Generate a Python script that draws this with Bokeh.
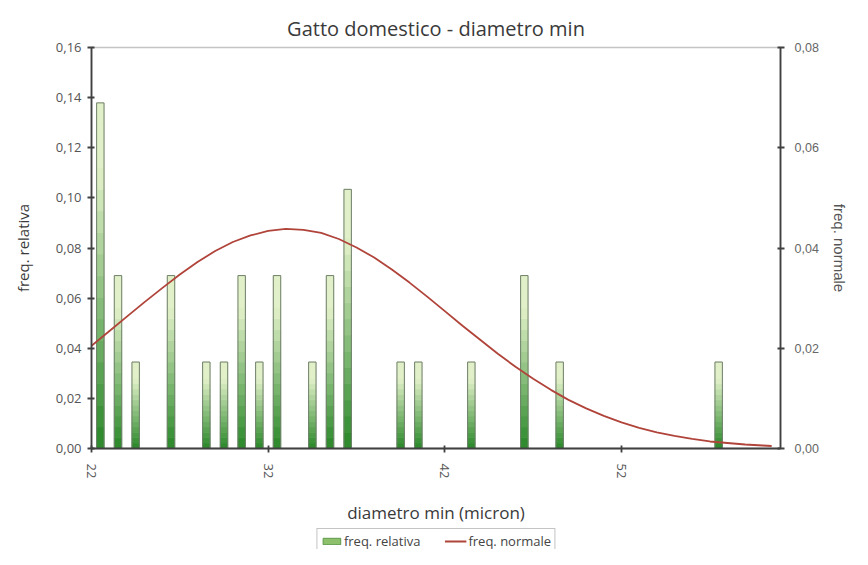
from bokeh.plotting import figure
from bokeh.models import (Range1d, LinearAxis, FixedTicker, CustomJSTickFormatter,
                          Legend, LegendItem, ColumnDataSource)
from bokeh.layouts import column
from bokeh.embed import file_html
from bokeh.resources import INLINE

# ---- data ----
diam = [22.5, 23.5, 24.5, 26.5, 28.5, 29.5, 30.5, 31.5, 32.5, 34.5,
        35.5, 36.5, 39.5, 40.5, 43.5, 46.5, 48.5, 57.5]
freq_rel = [0.1379, 0.0690, 0.0345, 0.0690, 0.0345, 0.0345, 0.0690, 0.0345, 0.0690, 0.0345,
            0.0690, 0.1034, 0.0345, 0.0345, 0.0345, 0.0690, 0.0345, 0.0345]

curve_x = [22, 23, 24, 25, 26, 27, 28, 29, 30, 31, 32, 33, 34, 35, 36, 37, 38, 39, 40, 41,
           42, 43, 44, 45, 46, 47, 48, 49, 50, 51, 52, 53, 54, 55, 56, 57, 58, 59, 60, 60.5]
curve_y = [0.0205, 0.0234, 0.0263, 0.0292, 0.0320, 0.0347, 0.0372, 0.0394, 0.0412, 0.0425,
           0.0434, 0.0438, 0.0436, 0.0430, 0.0418, 0.0401, 0.0381, 0.0357, 0.0331, 0.0303,
           0.0274, 0.0245, 0.0217, 0.0189, 0.0163, 0.0139, 0.0117, 0.0097, 0.0080, 0.0065,
           0.0052, 0.0041, 0.0032, 0.0025, 0.0019, 0.0014, 0.0011, 0.0008, 0.0006, 0.0005]

x_ticks = [22, 32, 42, 52]
y_left_ticks = [0, 0.02, 0.04, 0.06, 0.08, 0.10, 0.12, 0.14, 0.16]
y_right_ticks = [0, 0.02, 0.04, 0.06, 0.08]

TITLE = "Gatto domestico - diametro min"
XLABEL = "diametro min (micron)"
YLABEL_L = "freq. relativa"
YLABEL_R = "freq. normale"
LEG_BARS = "freq. relativa"
LEG_LINE = "freq. normale"

FONT = "Open Sans"
TXT = "#3a3a3a"
AX = "#404040"
RED = "#b0443a"
MIDGREEN = "#8cc06a"

p = figure(width=852, height=527, output_backend="svg", toolbar_location=None,
           x_range=Range1d(22, 61), y_range=Range1d(0, 0.16),
           min_border_left=91, min_border_right=72, min_border_top=47, min_border_bottom=78)
p.extra_y_ranges = {"norm": Range1d(0, 0.08)}

p.title.text = TITLE
p.title.align = "center"
p.title.text_font = FONT
p.title.text_font_size = "20px"
p.title.text_font_style = "normal"
p.title.text_color = TXT
p.title.standoff = 12

p.xgrid.visible = False
p.ygrid.visible = False
p.outline_line_color = "#c4c4c4"
p.outline_line_width = 1.5
p.background_fill_color = "white"
p.border_fill_color = "white"

# gradient bars: stacked slices from dark (bottom) to light (top)
n = 16
dark = (40, 135, 40)
light = (225, 240, 200)
for k in range(n):
    t = (k + 0.5) / n
    t2 = min(1.0, t * 1.25)
    c = tuple(int(dark[i] + (light[i] - dark[i]) * t2) for i in range(3))
    col = "#%02x%02x%02x" % c
    src = ColumnDataSource(dict(x=diam,
                                b=[h * k / n for h in freq_rel],
                                t=[h * (k + 1) / n for h in freq_rel]))
    p.vbar(x="x", bottom="b", top="t", width=0.42, source=src,
           fill_color=col, line_color=col, line_width=0.8)
p.vbar(x=diam, top=freq_rel, width=0.42, fill_color=None,
       line_color="#6f7f6a", line_width=1)

p.line(curve_x, curve_y, y_range_name="norm", line_color=RED, line_width=1.8)

fmt = CustomJSTickFormatter(code="return tick.toFixed(2).replace('.', ',');")

# x axis
xa = p.xaxis[0]
xa.ticker = FixedTicker(ticks=x_ticks)
xa.major_label_orientation = "vertical"
xa.axis_label = XLABEL
xa.axis_label_text_font = FONT
xa.axis_label_text_font_size = "17px"
xa.axis_label_text_font_style = "normal"
xa.axis_label_text_color = TXT
xa.axis_label_standoff = 20
xa.major_label_text_font = FONT
xa.major_label_text_font_size = "13px"
xa.major_label_text_color = "#555555"
xa.major_label_standoff = 11

# left axis
ya = p.yaxis[0]
ya.ticker = FixedTicker(ticks=y_left_ticks)
ya.formatter = fmt
ya.axis_label = YLABEL_L
ya.axis_label_text_font = FONT
ya.axis_label_text_font_size = "15px"
ya.axis_label_text_font_style = "normal"
ya.axis_label_text_color = TXT
ya.axis_label_standoff = 20
ya.major_label_text_font = FONT
ya.major_label_text_font_size = "13px"
ya.major_label_text_color = "#555555"
ya.major_label_standoff = 6

# right axis
ra = LinearAxis(y_range_name="norm", ticker=FixedTicker(ticks=y_right_ticks), formatter=fmt)
ra.axis_label = YLABEL_R
ra.axis_label_text_font = "Liberation Sans"
ra.axis_label_text_font_size = "15px"
ra.axis_label_text_font_style = "normal"
ra.axis_label_text_color = "#555555"
ra.axis_label_standoff = 9
ra.major_label_text_font = "Liberation Sans"
ra.major_label_text_font_size = "12.5px"
ra.major_label_text_color = "#666666"
ra.major_label_standoff = 10
p.add_layout(ra, "right")

for a in [xa, ya, ra]:
    a.axis_line_color = AX
    a.axis_line_width = 1.8
    a.major_tick_line_color = AX
    a.major_tick_line_width = 1.8
    a.major_tick_in = 3
    a.major_tick_out = 4
    a.minor_tick_line_color = None

# legend strip below the chart
pl = figure(width=852, height=22, output_backend="svg", toolbar_location=None,
            x_range=Range1d(0, 1), y_range=Range1d(0, 1),
            x_axis_type=None, y_axis_type=None, title=None, min_border=0)
pl.outline_line_color = None
pl.xgrid.visible = False
pl.ygrid.visible = False
pl.border_fill_color = "white"
rb = pl.vbar(x=[-5], top=[-5], width=0.1, fill_color=MIDGREEN, line_color="#5f9a4a")
rl = pl.line([-5, -4], [-5, -5], line_color=RED, line_width=1.8)
legend = Legend(items=[LegendItem(label=LEG_BARS, renderers=[rb]),
                       LegendItem(label=LEG_LINE, renderers=[rl])],
                orientation="horizontal", location="top_center",
                label_text_font=FONT, label_text_font_size="13px", label_text_color="#444444",
                border_line_color="#8a8a8a", border_line_width=1,
                background_fill_color="white", background_fill_alpha=1.0,
                glyph_width=22, glyph_height=8, label_standoff=2, spacing=24,
                padding=3, margin=1, label_height=14)
pl.add_layout(legend, "center")

open("out.html", "w").write(file_html(column(p, pl, spacing=0), INLINE))
